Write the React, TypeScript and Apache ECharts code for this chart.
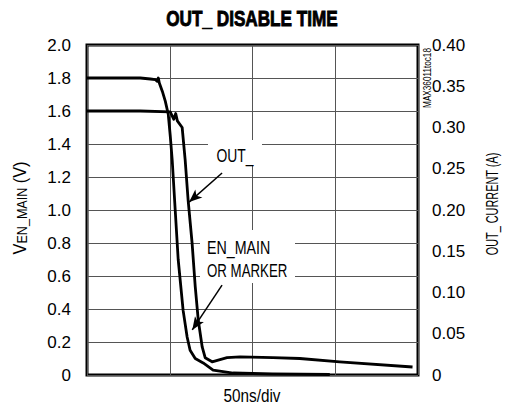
import React, { useEffect, useRef } from "react";
import * as echarts from "echarts";

// EN_MAIN (left axis, volts) — time in ns
const enTime = [0, 32.2, 38.3, 41.3, 42.5, 43.1, 43.7, 45.5, 47.3, 49.1, 50.3, 51.5, 53.3, 55.1, 58.1, 60.5, 62.3, 65.4, 70.2, 76.2, 88.3, 112, 146.7];
const enVolt = [1.8, 1.8, 1.794, 1.79, 1.78, 1.8, 1.77, 1.72, 1.66, 1.58, 1.45, 1.3, 1.0, 0.7, 0.39, 0.23, 0.15, 0.1, 0.073, 0.03, 0.012, 0.006, 0.003];

// OUT_ (right axis, amps) — time in ns
const outTime = [0, 32.2, 50.3, 52.4, 53.6, 54.6, 57.5, 59.3, 61.1, 63.5, 65.4, 67.2, 69.6, 71.4, 75.6, 84.6, 92.5, 112.3, 128.6, 152.7, 196.7];
const outAmp = [0.32, 0.32, 0.319, 0.31, 0.317, 0.308, 0.3, 0.261, 0.212, 0.16, 0.107, 0.067, 0.034, 0.021, 0.016, 0.021, 0.022, 0.021, 0.02, 0.016, 0.0097];

const leftTicks = [0, 0.2, 0.4, 0.6, 0.8, 1.0, 1.2, 1.4, 1.6, 1.8, 2.0];
const rightTicks = [0, 0.05, 0.1, 0.15, 0.2, 0.25, 0.3, 0.35, 0.4];

// arrow annotations: [fromT, fromV, toT, toV] in left-axis units
const outArrow = [81.6, 1.224, 61.7, 1.048];
const enArrow = [81.6, 0.545, 63.6, 0.273];

const FONT = "'Liberation Sans', Arial, sans-serif";

export default function App() {
  const ref = useRef<HTMLDivElement>(null);
  useEffect(() => {
    if (!ref.current) return;
    const chart = echarts.init(ref.current, null, { renderer: "svg" });
    const enData = enTime.map((t, i) => [t, enVolt[i]]);
    const outData = outTime.map((t, i) => [t, outAmp[i]]);
    const arrowLine = (a: number[]) => [{ coord: [a[0], a[1]] }, { coord: [a[2], a[3]] }];
    const txt = (text: string, x: number, y: number, size: number, sx: number, extra: any = {}) => ({
      type: "text",
      z: 51,
      x,
      y,
      scaleX: sx,
      ...extra,
      style: { text, fontFamily: FONT, fontSize: size, fill: "#000", align: "center", verticalAlign: "middle", ...(extra.style || {}) },
    });
    chart.setOption({
      animation: false,
      backgroundColor: "#fff",
      grid: { left: 87, right: 91, top: 45, bottom: 34, show: true, borderColor: "#000", borderWidth: 3 },
      xAxis: {
        type: "value",
        min: 0,
        max: 200,
        interval: 50,
        axisLine: { show: false },
        axisTick: { show: false },
        axisLabel: { show: false },
        splitLine: { show: true, lineStyle: { color: "#555", width: 1 } },
      },
      yAxis: [
        {
          type: "value",
          min: 0,
          max: 2,
          interval: 0.2,
          axisLine: { show: false },
          axisTick: { show: false },
          axisLabel: {
            margin: 16,
            fontFamily: FONT,
            fontSize: 17,
            color: "#000",
            formatter: (v: number) => {
              const m = leftTicks.find((x) => Math.abs(x - v) < 1e-6);
              return m === 0 ? "0" : (m ?? v).toFixed(1);
            },
          },
          splitLine: { show: true, lineStyle: { color: "#555", width: 1 } },
        },
        {
          type: "value",
          min: 0,
          max: 0.4,
          interval: 0.05,
          axisLine: { show: false },
          axisTick: { show: false },
          axisLabel: {
            margin: 14,
            fontFamily: FONT,
            fontSize: 17,
            color: "#000",
            formatter: (v: number) => {
              const m = rightTicks.find((x) => Math.abs(x - v) < 1e-6);
              return m === 0 ? "0" : (m ?? v).toFixed(2);
            },
          },
          splitLine: { show: false },
        },
      ],
      series: [
        {
          type: "line",
          name: "EN_MAIN OR MARKER",
          yAxisIndex: 0,
          data: enData,
          showSymbol: false,
          lineStyle: { color: "#000", width: 2.8, join: "round" },
          markLine: {
            silent: true,
            symbol: ["none", "arrow"],
            symbolSize: [8, 13],
            label: { show: false },
            lineStyle: { color: "#000", width: 1.5, type: "solid" },
            data: [arrowLine(outArrow), arrowLine(enArrow)],
          },
        },
        {
          type: "line",
          name: "OUT_",
          yAxisIndex: 1,
          data: outData,
          showSymbol: false,
          lineStyle: { color: "#000", width: 2.8, join: "round" },
        },
      ],
      graphic: [
        txt("OUT_ DISABLE TIME", 252, 18, 22, 0.78, { style: { fontWeight: "bold", stroke: "#000", lineWidth: 0.9 } }),
        txt("50ns/div", 252, 396, 18, 0.85),
        txt("", 20, 208, 18, 0.9, {
          rotation: Math.PI / 2,
          style: {
            text: "V{sub|EN_MAIN} (V)",
            rich: { sub: { fontFamily: FONT, fontSize: 14, fill: "#000", padding: [5, 0, 0, 0] } },
          },
        }),
        txt("OUT_ CURRENT (A)", 492, 204, 17, 0.64, { rotation: Math.PI / 2 }),
        txt("MAX36011toc18", 427, 78, 10.5, 0.78, { rotation: Math.PI / 2 }),
        { type: "rect", z: 50, shape: { x: 208, y: 140, width: 54, height: 25 }, style: { fill: "#fff" } },
        txt("OUT_", 235, 156, 19, 0.73),
        { type: "rect", z: 50, shape: { x: 200, y: 230, width: 95, height: 53 }, style: { fill: "#fff" } },
        txt("EN_MAIN", 207, 248, 19, 0.75, { style: { align: "left" } }),
        txt("OR MARKER", 207, 270, 19, 0.7, { style: { align: "left" } }),
      ],
    });
    return () => chart.dispose();
  }, []);
  return <div ref={ref} style={{ position: "fixed", left: 0, top: 0, width: 509, height: 409 }} />;
}
